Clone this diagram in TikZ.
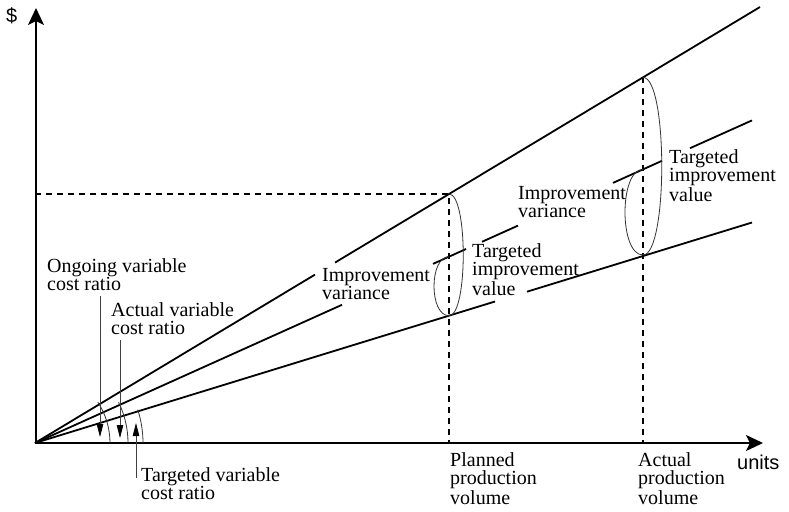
\documentclass[tikz,border=0pt]{standalone}
\usepackage{fontspec}
\setmainfont{Liberation Serif}
\newfontfamily\axisfont{Liberation Sans}
\usetikzlibrary{arrows.meta,calc}
\begin{document}
\begin{tikzpicture}[x=1pt,y=-1pt,
  costline/.style={line width=1.8pt},
  axis/.style={line width=1.8pt,-{Stealth[length=17pt,width=16pt,inset=4pt]}},
  guide/.style={line width=1.5pt,dash pattern=on 6pt off 5pt},
  bracket/.style={line width=0.8pt,black!80},
  anglearc/.style={line width=0.8pt,black!80},
  pointer/.style={line width=0.8pt,black!75,-{Triangle[length=13pt,width=6.5pt,black]}},
  label/.style={font=\fontsize{20}{18}\selectfont,align=left,anchor=base west,inner sep=0pt},
  axislabel/.style={font=\axisfont\fontsize{20}{20}\selectfont,anchor=base west,inner sep=0pt}]
\useasboundingbox (0,0) rectangle (789,511);

% origin and axes
\coordinate (O) at (35,443);
\coordinate (yaxis0) at (36,443);
\coordinate (yaxis1) at (36,8);
\coordinate (xaxis1) at (763,443);
\draw[axis] (yaxis0) -- (yaxis1);
\draw[axis] (O) -- (xaxis1);

% ongoing cost line (steepest)
\coordinate (t1) at (315,274.6);
\coordinate (t2) at (335,262.6);
\coordinate (tend) at (760,7);
% actual cost line (middle)
\coordinate (m1) at (342,304.8);
\coordinate (m2) at (433,263.9);
\coordinate (m3) at (466,249);
\coordinate (m4) at (482,241.8);
\coordinate (m5) at (518,225.6);
\coordinate (m6) at (613,182.9);
\coordinate (m7) at (662,160.8);
\coordinate (m8) at (690,148.2);
\coordinate (mend) at (752,120.4);
% targeted cost line (flattest)
\coordinate (b1) at (495,301.5);
\coordinate (b2) at (527,291.7);
\coordinate (bend) at (752,222.5);

\draw[costline] (O) -- (t1) (t2) -- (tend);
\draw[costline] (O) -- (m1) (m2) -- (m3) (m4) -- (m5) (m6) -- (m7) (m8) -- (mend);
\draw[costline] (O) -- (b1) (b2) -- (bend);

% planned / actual volume guides
\coordinate (pt) at (449,194);
\coordinate (pm) at (449,256.7);
\coordinate (pb) at (449,315.7);
\coordinate (pax) at (449,443);
\coordinate (py) at (35,194);
\coordinate (at) at (643,77.4);
\coordinate (am) at (643,169.4);
\coordinate (ab) at (643,255);
\coordinate (aax) at (643,443);
\draw[guide] (py) -- (pt) -- (pax);
\draw[guide] (at) -- (aax);

% variance brackets
\draw[bracket] (pt) .. controls (468,194) and (468,315.7) .. (pb);
\draw[bracket] (pm) .. controls (429,256.7) and (429,315.7) .. (pb);
\draw[bracket] (at) .. controls (668,77.4) and (668,255) .. (ab);
\draw[bracket] (am) .. controls (619,169.4) and (619,255) .. (ab);

% angle arcs at the origin (y grows downwards, so angles are negative)
\draw[anglearc] ($(O)+(-33:75)$) arc[start angle=-33,end angle=0,radius=75];
\draw[anglearc] ($(O)+(-26:93)$) arc[start angle=-26,end angle=0,radius=93];
\draw[anglearc] ($(O)+(-18:108)$) arc[start angle=-18,end angle=0,radius=108];

% labels (placed at the baseline of their last line)
\node[label] (ongoing) at (47,290) {Ongoing variable\\cost ratio};
\node[label] (actualratio) at (111,334) {Actual variable\\cost ratio};
\node[label] (targetratio) at (141,499) {Targeted variable\\cost ratio};
\node[label] (impvarA) at (322,299) {Improvement\\variance};
\node[label] (tivA) at (472,295) {Targeted\\improvement\\value};
\node[label] (impvarB) at (518,217) {Improvement\\variance};
\node[label] (tivB) at (669,201) {Targeted\\improvement\\value};
\node[label] (planned) at (450,504) {Planned\\production\\volume};
\node[label] (actualvol) at (638,504) {Actual\\production\\volume};
\node[axislabel] (units) at (737,469) {units};
\node[axislabel] (dollar) at (6,23) {\$};

% pointers to the angles
\coordinate (p1s) at (100,296);
\coordinate (p1t) at (100,437);
\coordinate (p2s) at (120,340);
\coordinate (p2t) at (120,438);
\coordinate (p3s) at (136,478);
\coordinate (p3t) at (136,423);
\draw[pointer] (p1s) -- (p1t);
\draw[pointer] (p2s) -- (p2t);
\draw[pointer] (p3s) -- (p3t);
\end{tikzpicture}
\end{document}
